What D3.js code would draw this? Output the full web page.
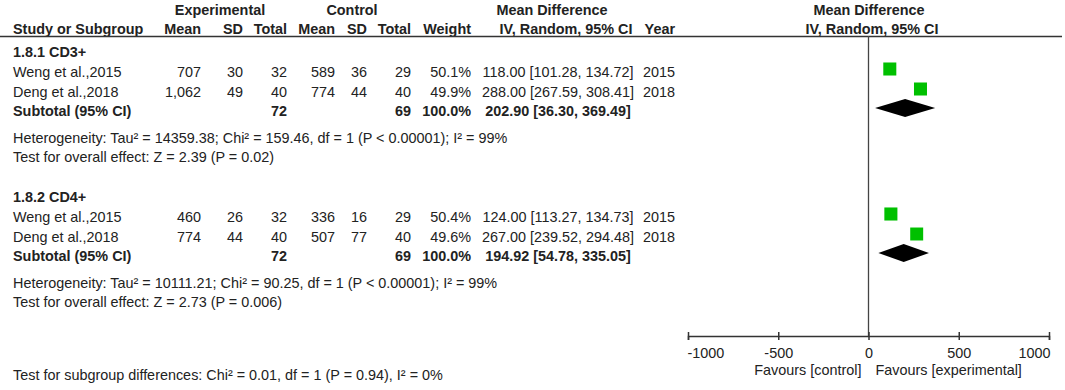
<!DOCTYPE html>
<html>
<head>
<meta charset='utf-8'>
<title>Forest plot</title>
<script src='https://cdn.jsdelivr.net/npm/d3@7'></script>
<style>
  body { margin: 0; background: #fff; }
  text { font-family: Arial, 'Liberation Sans', sans-serif; font-size: 14.4px; fill: #222; }
  .b { font-weight: bold; }
</style>
</head>
<body>
<svg width='1065' height='390'></svg>
<script>
// data
const groups = ['1.8.1 CD3+', '1.8.2 CD4+']
const studies = ['Weng et al.,2015', 'Deng et al.,2018']
const years = [2015, 2018]
const expMean = [[707, 1062], [460, 774]]
const expSD = [[30, 49], [26, 44]]
const expN = [[32, 40], [32, 40]]
const ctlMean = [[589, 774], [336, 507]]
const ctlSD = [[36, 44], [16, 77]]
const ctlN = [[29, 40], [29, 40]]
const weight = [[50.1, 49.9], [50.4, 49.6]]
const md = [[118.00, 288.00], [124.00, 267.00]]
const mdLo = [[101.28, 267.59], [113.27, 239.52]]
const mdHi = [[134.72, 308.41], [134.73, 294.48]]
const subExpN = [72, 72]
const subCtlN = [69, 69]
const subMd = [202.90, 194.92]
const subLo = [36.30, 54.78]
const subHi = [369.49, 335.05]
const hetero = [
  'Heterogeneity: Tau² = 14359.38; Chi² = 159.46, df = 1 (P < 0.00001); I² = 99%',
  'Heterogeneity: Tau² = 10111.21; Chi² = 90.25, df = 1 (P < 0.00001); I² = 99%'
]
const overall = [
  'Test for overall effect: Z = 2.39 (P = 0.02)',
  'Test for overall effect: Z = 2.73 (P = 0.006)'
]
const subgroupTest = 'Test for subgroup differences: Chi² = 0.01, df = 1 (P = 0.94), I² = 0%'
const xTicks = [-1000, -500, 0, 500, 1000]

const svg = d3.select('svg')
const x = d3.scaleLinear([-1000, 1000], [688, 1049])
const size = d3.scaleSqrt([0, 100], [0, 18.4])
const axisY = 336
const topLine = 36
const groupTop = [57, 202]
// offsets of rows inside a group (baselines)
const rowOff = { studies: [20, 40], sub: 59, het: 86, test: 105 }

// column anchors
const col = { study: 13, eMean: 201, eSD: 243, eN: 287, cMean: 335, cSD: 367, cN: 411, w: 471, ci: 558, year: 675 }

function txt(xp, y, s, anchor, cls) {
  return svg.append('text').attr('x', xp).attr('y', y).attr('text-anchor', anchor || 'start')
    .attr('class', cls || null).text(s)
}
const f2 = d3.format('.2f')
const fN = d3.format(',')
const ciText = (m, l, h) => `${f2(m)} [${f2(l)}, ${f2(h)}]`

// headers
txt(220, 15, 'Experimental', 'middle', 'b')
txt(352, 15, 'Control', 'middle', 'b')
txt(552, 15, 'Mean Difference', 'middle', 'b')
txt(869, 15, 'Mean Difference', 'middle', 'b')
txt(col.study, 34, 'Study or Subgroup', 'start', 'b')
txt(col.eMean, 34, 'Mean', 'end', 'b')
txt(col.eSD, 34, 'SD', 'end', 'b')
txt(col.eN, 34, 'Total', 'end', 'b')
txt(col.cMean, 34, 'Mean', 'end', 'b')
txt(col.cSD, 34, 'SD', 'end', 'b')
txt(col.cN, 34, 'Total', 'end', 'b')
txt(col.w, 34, 'Weight', 'end', 'b')
txt(566, 34, 'IV, Random, 95% CI', 'middle', 'b')
txt(col.year, 34, 'Year', 'end', 'b')
txt(872, 34, 'IV, Random, 95% CI', 'middle', 'b')

svg.append('line').attr('x1', 0).attr('x2', 1062).attr('y1', topLine + 0.5).attr('y2', topLine + 0.5)
  .attr('stroke', '#333').attr('stroke-width', 1.3)

// zero line
svg.append('line').attr('x1', x(0)).attr('x2', x(0)).attr('y1', topLine).attr('y2', axisY)
  .attr('stroke', '#444').attr('stroke-width', 1.3)

groups.forEach((g, gi) => {
  const y0 = groupTop[gi]
  txt(col.study, y0, g, 'start', 'b')
  studies.forEach((s, i) => {
    const y = y0 + rowOff.studies[i]
    txt(col.study, y, s)
    txt(col.eMean, y, fN(expMean[gi][i]), 'end')
    txt(col.eSD, y, expSD[gi][i], 'end')
    txt(col.eN, y, expN[gi][i], 'end')
    txt(col.cMean, y, fN(ctlMean[gi][i]), 'end')
    txt(col.cSD, y, ctlSD[gi][i], 'end')
    txt(col.cN, y, ctlN[gi][i], 'end')
    txt(col.w, y, weight[gi][i].toFixed(1) + '%', 'end')
    txt(col.ci, y, ciText(md[gi][i], mdLo[gi][i], mdHi[gi][i]), 'middle')
    txt(col.year, y, years[i], 'end')
    // CI whisker + square
    const cy = y - 8
    svg.append('line').attr('x1', x(mdLo[gi][i])).attr('x2', x(mdHi[gi][i]))
      .attr('y1', cy).attr('y2', cy).attr('stroke', '#000').attr('stroke-width', 1)
    const sz = size(weight[gi][i])
    svg.append('rect').attr('x', x(md[gi][i]) - sz / 2).attr('y', cy - sz / 2)
      .attr('width', sz).attr('height', sz).attr('fill', '#00c000')
  })
  const ys = y0 + rowOff.sub
  txt(col.study, ys, 'Subtotal (95% CI)', 'start', 'b')
  txt(col.eN, ys, subExpN[gi], 'end', 'b')
  txt(col.cN, ys, subCtlN[gi], 'end', 'b')
  txt(col.w, ys, '100.0%', 'end', 'b')
  txt(col.ci, ys, ciText(subMd[gi], subLo[gi], subHi[gi]), 'middle', 'b')
  const dy = ys - 8
  svg.append('polygon')
    .attr('points', [[x(subLo[gi]), dy], [x(subMd[gi]), dy - 9], [x(subHi[gi]), dy], [x(subMd[gi]), dy + 9]].join(' '))
    .attr('fill', '#000')
  txt(col.study, y0 + rowOff.het, hetero[gi])
  txt(col.study, y0 + rowOff.test, overall[gi])
})

// axis
const gAxis = svg.append('g').attr('transform', `translate(0,${axisY})`)
  .call(d3.axisBottom(x).tickValues(xTicks).tickSizeOuter(0).tickSize(4).tickFormat(d => String(d)))
gAxis.attr('font-size', null).attr('font-family', null)
gAxis.select('.domain').attr('stroke', '#333').attr('stroke-width', 1.5)
gAxis.selectAll('.tick line').attr('y1', -4).attr('y2', 4).attr('stroke', '#333').attr('stroke-width', 1.5)
gAxis.selectAll('.tick text').attr('y', 12)
  .attr('text-anchor', (d, i) => i === 0 ? 'start' : i === xTicks.length - 1 ? 'end' : 'middle')
  .attr('dx', (d, i) => i === 0 ? -1 : i === xTicks.length - 1 ? 1 : 0)

txt(x(0) - 7, 375, 'Favours [control]', 'end')
txt(x(0) + 7, 375, 'Favours [experimental]', 'start')

txt(col.study, 380, subgroupTest)
</script>
</body>
</html>
